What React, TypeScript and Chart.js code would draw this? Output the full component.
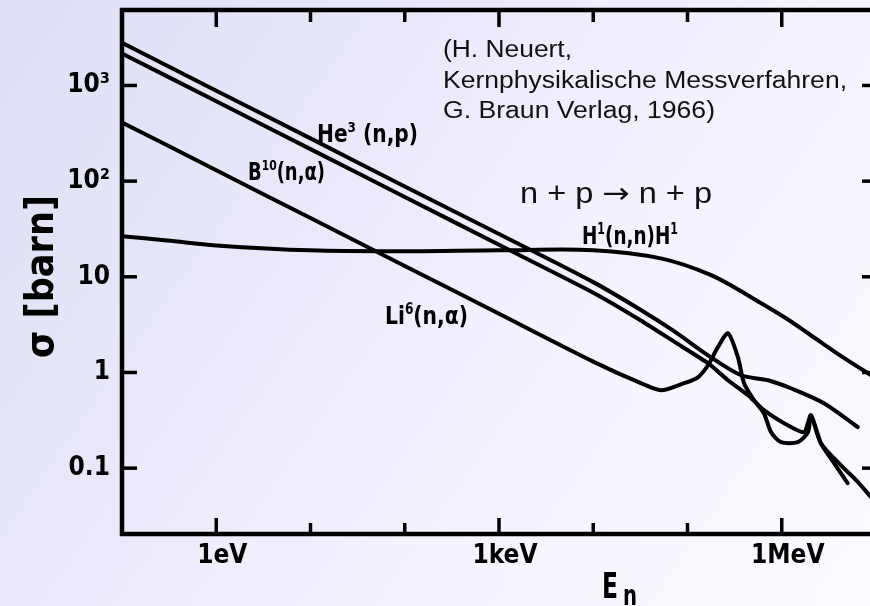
import React, { useEffect, useRef } from 'react';
import { Chart, registerables } from 'chart.js';

Chart.register(...registerables);

// ---------------- data (energy in eV, cross section in barn) ----------------
const xTickValues = [0.1, 1, 10, 100, 1e3, 1e4, 1e5, 1e6, 1e7];
const xTickLabels = ['', '1eV', '', '', '1keV', '', '', '1MeV', ''];
const yTickValues = [0.1, 1, 10, 100, 1000];
const yTickLabels = ['0.1', '1', '10', '10²', '10³'];

const he3Energy = [0.1, 1, 10, 100, 1e3, 1e4, 3.2e4, 7.2e4, 1.65e5, 3.7e5, 7.15e5, 1.25e6, 2.8e6, 6.4e6];
const he3Sigma = [2800, 880, 280, 88, 28, 8.8, 4.5, 2.7, 1.51, 0.935, 0.83, 0.684, 0.477, 0.268];

const b10Energy = [0.1, 1, 10, 100, 1e3, 1e4, 3.2e4, 7.2e4, 1.65e5, 2.69e5, 4.39e5, 6.46e5, 1.06e6, 1.72e6, 2.04e6, 2.6e6, 3.59e6, 5.0e6];
const b10Sigma = [2160, 683, 216, 68.3, 21.6, 6.83, 3.5, 2.1, 1.25, 0.83, 0.578, 0.404, 0.295, 0.238, 0.357, 0.182, 0.113, 0.0697];

const li6Energy = [0.1, 1, 10, 100, 1e3, 1e4, 3.2e4, 5.24e4, 9.2e4, 1.29e5, 1.65e5, 2.1e5, 2.69e5, 3.43e5, 3.98e5, 5.08e5, 6.46e5, 7.7e5, 9.8e5, 1.48e6, 1.9e6, 2.04e6, 2.6e6, 4.26e6, 6.44e6, 8.85e6];
const li6Sigma = [411, 130, 41.1, 13, 4.11, 1.3, 0.773, 0.653, 0.773, 0.891, 1.19, 1.84, 2.57, 1.44, 0.773, 0.513, 0.375, 0.238, 0.187, 0.187, 0.238, 0.357, 0.182, 0.107, 0.0715, 0.0498];

const h1Energy = [0.1, 0.3, 1, 10, 100, 1e3, 1e4, 5.2e4, 1.78e5, 5.33e5, 1.11e6, 1.9e6, 4.27e6, 1e7];
const h1Sigma = [26.5, 24, 21.3, 18.9, 18.5, 18.9, 19, 15.6, 10.4, 5.7, 3.69, 2.57, 1.48, 0.87];

const referenceLines = ['(H. Neuert,', 'Kernphysikalische Messverfahren,', 'G. Braun Verlag, 1966)'];
const reactionParts = ['n + p ', '\u2192', ' n + p'];

// ---------------- styles ----------------
const BOLD = "'Liberation Sans Narrow', 'DejaVu Sans Condensed', 'Liberation Sans', Arial, sans-serif";
const SANS = "'Liberation Sans', Arial, Helvetica, sans-serif";
const ARROW = "'DejaVu Sans', 'Liberation Sans', sans-serif";

type Seg = { t: string; sup?: boolean; family?: string };

function drawSegs(
  ctx: CanvasRenderingContext2D,
  segs: Seg[],
  x: number,
  baseline: number,
  width: number,
  size: number,
  family: string,
  weight: string,
  rotate = false,
  color = '#000'
) {
  const supSize = size * 0.6;
  const fontFor = (s: Seg) => `${weight} ${s.sup ? supSize : size}px ${s.family || family}`;
  ctx.save();
  let natural = 0;
  for (const s of segs) {
    ctx.font = fontFor(s);
    natural += ctx.measureText(s.t).width;
  }
  ctx.translate(x, baseline);
  if (rotate) ctx.rotate(-Math.PI / 2);
  ctx.scale(width / natural, 1);
  ctx.textAlign = 'left';
  ctx.textBaseline = 'alphabetic';
  ctx.fillStyle = color;
  let cx = 0;
  for (const s of segs) {
    ctx.font = fontFor(s);
    ctx.fillText(s.t, cx, s.sup ? -size * 0.42 : 0);
    cx += ctx.measureText(s.t).width;
  }
  ctx.restore();
}

const framePlugin = {
  id: 'framePlugin',
  afterDatasetsDraw(chart: any) {
    const { ctx, chartArea: a, scales } = chart;
    const xs = scales.x;
    const ys = scales.y;
    const seg = (x1: number, y1: number, x2: number, y2: number) => {
      ctx.beginPath();
      ctx.moveTo(x1, y1);
      ctx.lineTo(x2, y2);
      ctx.stroke();
    };
    ctx.save();
    ctx.strokeStyle = '#000';
    ctx.lineWidth = 3.5;
    xTickValues.forEach((v, i) => {
      if (i === 0 || i === xTickValues.length - 1) return;
      const px = xs.getPixelForValue(v);
      const major = xTickLabels[i] !== '';
      seg(px, a.bottom, px, a.bottom - (major ? 16 : 11));
      seg(px, a.top, px, a.top + (major ? 17 : 12));
    });
    yTickValues.forEach((v) => {
      const py = ys.getPixelForValue(v);
      seg(a.left, py, a.left + 15, py);
      seg(a.right, py, a.right - 14, py);
    });
    ctx.lineWidth = 4.5;
    ctx.strokeRect(a.left, a.top, a.right - a.left, a.bottom - a.top);
    ctx.restore();
  },
  afterDraw(chart: any) {
    const ctx: CanvasRenderingContext2D = chart.ctx;
    // curve labels
    drawSegs(ctx, [{ t: 'He' }, { t: '3', sup: true }, { t: ' (n,p)' }], 317, 142, 101, 24, BOLD, 'bold');
    drawSegs(ctx, [{ t: 'B' }, { t: '10', sup: true }, { t: '(n,\u03b1)' }], 248, 180, 77, 24, BOLD, 'bold');
    drawSegs(ctx, [{ t: 'Li' }, { t: '6', sup: true }, { t: '(n,\u03b1)' }], 385, 324, 83, 25, BOLD, 'bold');
    drawSegs(ctx, [{ t: 'H' }, { t: '1', sup: true }, { t: '(n,n)H' }, { t: '1', sup: true }], 582, 244, 96, 25, BOLD, 'bold');
    // reference block
    drawSegs(ctx, [{ t: referenceLines[0] }], 443, 57, 129, 23, SANS, 'normal', false, '#111');
    drawSegs(ctx, [{ t: referenceLines[1] }], 443, 88, 404, 23, SANS, 'normal', false, '#111');
    drawSegs(ctx, [{ t: referenceLines[2] }], 443, 118, 272, 23, SANS, 'normal', false, '#111');
    drawSegs(
      ctx,
      [{ t: reactionParts[0] }, { t: reactionParts[1], family: ARROW }, { t: reactionParts[2] }],
      520, 203, 192, 29, SANS, 'normal', false, '#111'
    );
    // axis titles
    drawSegs(ctx, [{ t: '\u03c3 [barn]' }], 53, 358, 163, 39, BOLD, 'bold', true);
    drawSegs(ctx, [{ t: 'E' }], 602, 598, 16, 36, BOLD, 'bold');
    drawSegs(ctx, [{ t: 'n' }], 623, 605, 14, 28, BOLD, 'bold');
  },
};

const toPoints = (e: number[], s: number[]) => e.map((v, i) => ({ x: v, y: s[i] }));

export default function App() {
  const ref = useRef<HTMLCanvasElement | null>(null);

  useEffect(() => {
    if (!ref.current) return;
    const lineStyle = {
      borderColor: '#000',
      borderWidth: 4,
      pointRadius: 0,
      fill: false,
      borderCapStyle: 'round' as const,
      borderJoinStyle: 'round' as const,
    };
    const chart = new Chart(ref.current, {
      type: 'line',
      data: {
        datasets: [
          { label: 'He3(n,p)', data: toPoints(he3Energy, he3Sigma), tension: 0.3, ...lineStyle },
          { label: 'B10(n,a)', data: toPoints(b10Energy, b10Sigma), tension: 0.2, ...lineStyle },
          { label: 'Li6(n,a)', data: toPoints(li6Energy, li6Sigma), tension: 0.25, ...lineStyle },
          { label: 'H1(n,n)H1', data: toPoints(h1Energy, h1Sigma), tension: 0.35, ...lineStyle },
        ],
      },
      options: {
        animation: false,
        responsive: false,
        devicePixelRatio: 1,
        layout: { autoPadding: false, padding: { top: 10, right: 4, left: 0, bottom: 0 } },
        plugins: { legend: { display: false }, tooltip: { enabled: false } },
        scales: {
          x: {
            type: 'logarithmic',
            min: 0.1,
            max: 1e7,
            grid: { display: false, drawTicks: false, tickLength: 0 },
            border: { display: false },
            afterBuildTicks: (axis: any) => {
              axis.ticks = xTickValues.map((v) => ({ value: v }));
            },
            afterFit: (scale: any) => {
              scale.height = 72;
              scale.paddingLeft = 0;
              scale.paddingRight = 0;
            },
            ticks: {
              autoSkip: false,
              maxRotation: 0,
              padding: 7,
              labelOffset: 6,
              color: '#000',
              font: { family: BOLD, size: 26, weight: 'bold' },
              callback: (_v: any, i: number) => xTickLabels[i],
            },
          },
          y: {
            type: 'logarithmic',
            min: 0.0205,
            max: 6150,
            grid: { display: false, drawTicks: false, tickLength: 0 },
            border: { display: false },
            afterBuildTicks: (axis: any) => {
              axis.ticks = yTickValues.map((v) => ({ value: v }));
            },
            afterFit: (scale: any) => {
              scale.width = 122;
              scale.paddingTop = 0;
              scale.paddingBottom = 0;
            },
            ticks: {
              autoSkip: false,
              padding: 12,
              color: '#000',
              font: { family: BOLD, size: 26, weight: 'bold' },
              callback: (_v: any, i: number) => yTickLabels[i],
            },
          },
        },
      } as any,
      plugins: [framePlugin],
    });
    return () => chart.destroy();
  }, []);

  return (
    <div
      style={{
        position: 'fixed',
        left: 0,
        top: 0,
        width: 870,
        height: 606,
        overflow: 'hidden',
        background: 'linear-gradient(125deg, #dedef6 0%, #e9e9fa 35%, #f4f4fe 65%, #fafaff 100%)',
      }}
    >
      <canvas ref={ref} width={880} height={606} style={{ display: 'block', width: 880, height: 606 }} />
    </div>
  );
}
